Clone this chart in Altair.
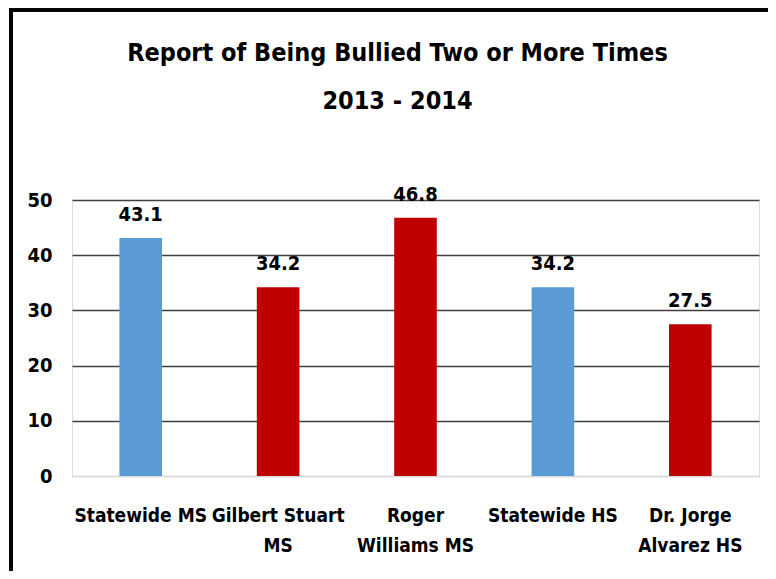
import altair as alt
import pandas as pd

categories = ["Statewide MS", "Gilbert Stuart\nMS", "Roger\nWilliams MS", "Statewide HS", "Dr. Jorge\nAlvarez HS"]
values = [43.1, 34.2, 46.8, 34.2, 27.5]
groups = ["Statewide", "School", "School", "Statewide", "School"]
colors = {"Statewide": "#5B9BD5", "School": "#C00000"}
y_ticks = [0, 10, 20, 30, 40, 50]
title_lines = ["Report of Being Bullied Two or More Times", "2013 - 2014"]

FONT = "DejaVu Sans Condensed, Liberation Sans, sans-serif"

df = pd.DataFrame({"cat": categories, "value": values, "group": groups})

x = alt.X("cat:N", sort=categories, title=None,
          scale=alt.Scale(paddingInner=0.69, paddingOuter=0.345),
          axis=alt.Axis(labelAngle=0, labelExpr="split(datum.label, '\\n')",
                        labelFont=FONT, labelFontSize=19, labelFontWeight="bold",
                        labelColor="#000000", labelLineHeight=30, labelPadding=30,
                        ticks=False, domain=True, domainColor="#d9d9d9", domainWidth=1.5))
y = alt.Y("value:Q", title=None,
          scale=alt.Scale(domain=[0, 50]),
          axis=alt.Axis(values=y_ticks, labelFont=FONT, labelFontSize=20,
                        labelFontWeight="bold", labelColor="#000000", labelPadding=20,
                        ticks=False, domain=False,
                        gridColor={"condition": {"test": "datum.value === 0", "value": "#d9d9d9"},
                                   "value": "#404040"},
                        gridWidth=1.4))

bars = alt.Chart(df).mark_bar().encode(
    x=x, y=y,
    color=alt.Color("group:N", scale=alt.Scale(domain=list(colors.keys()), range=list(colors.values())), legend=None),
)

labels = alt.Chart(df).mark_text(dy=-13, baseline="bottom", font=FONT, fontSize=20,
                                 fontWeight="bold", color="#000000").encode(
    x=alt.X("cat:N", sort=categories),
    y="value:Q",
    text=alt.Text("value:Q", format=".1f"),
)

border_top = alt.Chart(df).mark_rule(color="#000000", strokeWidth=3).encode(
    x=alt.value(-63), x2=alt.value(710), y=alt.value(-190))
border_left = alt.Chart(df).mark_rule(color="#000000", strokeWidth=3).encode(
    x=alt.value(-61), y=alt.value(-191), y2=alt.value(380))

chart = alt.layer(bars, labels, border_top, border_left).properties(
    width=687, height=276,
    autosize=alt.AutoSizeParams(type="none"),
    padding={"left": 64, "top": 192, "right": 9, "bottom": 95},
    title=alt.TitleParams(text=title_lines, font=FONT, fontSize=25, fontWeight="bold",
                          color="#000000", lineHeight=48, anchor="middle", dx=-18,
                          offset=-106),
).configure_view(stroke=None).configure(background="white")

chart.save("out.html", embed_options={"renderer": "svg", "actions": False})
